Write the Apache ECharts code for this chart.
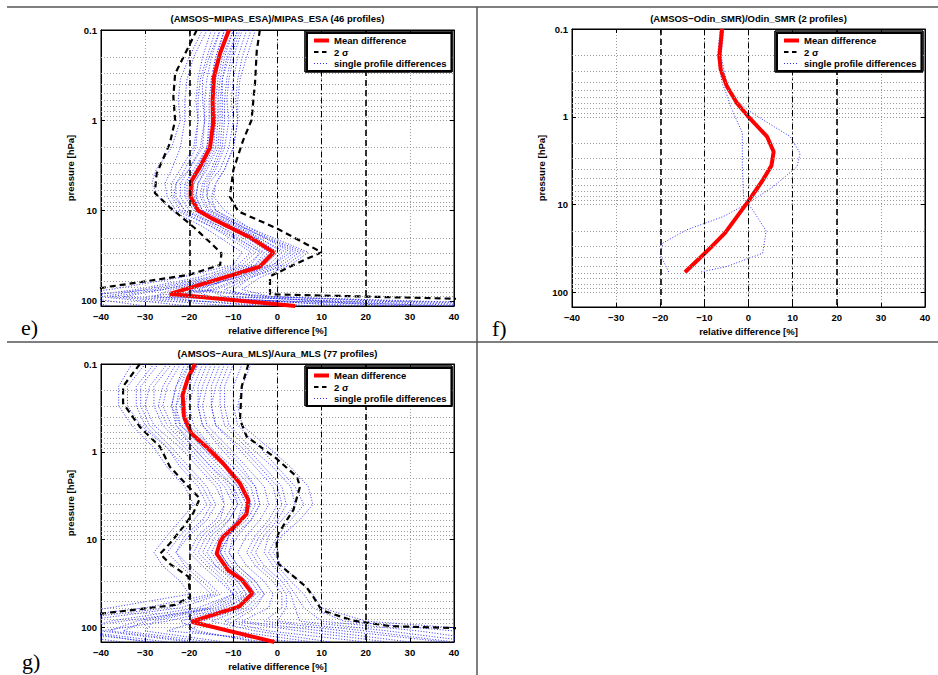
<!DOCTYPE html>
<html><head><meta charset="utf-8">
<script src="https://cdn.jsdelivr.net/npm/echarts@6/dist/echarts.min.js"></script>
<style>html,body{margin:0;padding:0;background:#fff}#c{width:938px;height:675px}</style>
</head><body><div id="c"></div>
<script>
// ---------- tick labels / reference values ----------
const xTicks = [-40, -30, -20, -10, 0, 10, 20, 30, 40];
const xTickLabels = ['\u221240', '\u221230', '\u221220', '\u221210', '0', '10', '20', '30', '40'];
const yTicks = [0.1, 1, 10, 100];
const yTickLabels = ['0.1', '1', '10', '100'];
const minorP = [0.2, 0.3, 0.4, 0.5, 0.6, 0.7, 0.8, 0.9, 2, 3, 4, 5, 6, 7, 8, 9, 20, 30, 40, 50, 60, 70, 80, 90];
const refX = [-20, -10, 0, 10, 20];
const legendNames = ['Mean difference', '2 \u03c3', 'single profile differences'];
const titles = ['(AMSOS\u2212MIPAS_ESA)/MIPAS_ESA (46 profiles)', '(AMSOS\u2212Odin_SMR)/Odin_SMR (2 profiles)', '(AMSOS\u2212Aura_MLS)/Aura_MLS (77 profiles)'];
const panelLabels = ['e)', 'f)', 'g)'];

// ---------- panel e: MIPAS_ESA ----------
const meanE_p = [0.1, 0.18, 0.33, 0.6, 1.1, 2, 3.3, 4.8, 7, 10, 12.2, 15.7, 20.3, 29, 41.8, 83.7, 114];
const meanE_v = [-11, -13, -14.4, -14.7, -14.6, -15.3, -17.6, -19.6, -19.7, -18, -14.9, -10.4, -5.9, -0.9, -4, -24.4, 4];
const sigLoE_p = [0.1, 0.155, 0.305, 0.55, 1, 1.8, 3.9, 6.4, 9, 15.7, 24.2, 29.8, 40, 51.6, 72, 85];
const sigLoE_v = [-18.3, -20.2, -23.2, -23.6, -23.2, -24.4, -27.4, -27.8, -24.6, -18.7, -14.6, -12.7, -13, -20.2, -40, -50];
const sigHiE_p = [0.1, 0.17, 0.39, 1, 1.67, 3.55, 7, 10.2, 15.7, 29, 35, 53.4, 84.5, 100];
const sigHiE_v = [-4, -4.7, -5.1, -5.9, -7.8, -10, -10.8, -8.9, -0.2, 10, 6.2, -1.7, -1.7, 60];
const profE_p = [0.1, 0.2, 0.35, 0.6, 1, 2, 3.5, 5, 7, 10, 15, 20, 29, 40, 55, 75, 90, 114];
const profilesE = [
  [-8, -10, -11, -11.5, -11, -12, -14, -16, -16, -14, -8, -3, 3, -1, -8, -15, -30, 40],
  [-14, -16, -17.5, -18, -18, -18.5, -21, -23, -23, -21, -13, -9, -4, -6, -14, -26, -38, -10],
  [-6, -8, -9, -9.5, -9, -10, -12, -14, -14.5, -12, -7, -2, 6, 2, -6, -12, -5, 25],
  [-12, -14, -15, -15.5, -15.5, -16, -19, -21, -21, -19, -12, -7, -2, -5, -13, -22, -20, 8],
  [-10, -12, -13, -13.5, -13.5, -14, -16.5, -18, -18.5, -17, -10, -5, 0, -3, -10, -18, -1, 60],
  [-16, -19, -20.5, -21, -21, -22, -24, -25.5, -25, -23, -15, -11, -6, -9, -18, -32, -45, -30],
  [-9, -11, -12.5, -12.5, -12.5, -13, -15, -17, -17.5, -16, -9, -4, 1, -2, -9, -20, -15, 15],
  [-13, -15, -16, -16.5, -16.5, -17, -20, -22, -22, -20, -13, -8, -3, -5, -12, -24, -28, -5],
  [-11, -13, -14, -14.5, -14, -15, -17, -19, -19, -17.5, -11, -6, -1, -4, -11, -22, -2, 50],
  [-7, -9, -10, -10.5, -10, -11, -13, -15.5, -16, -15, -8.5, -3, 4, 0, -7, -14, -25, 30],
  [-15, -17, -18, -18.5, -18, -19, -22, -24, -24, -22, -15, -10, -5, -8, -16, -30, -40, -20],
  [-10, -12.5, -13.5, -14, -14, -14.5, -17, -19, -19.5, -18, -10.5, -5, 0, -3, -11, -16, -12, 45],
  [-12, -14, -15, -15, -15, -16, -18.5, -20.5, -20.5, -18.5, -11.5, -6.5, -1.5, -4.5, -12, -26, -35, 0],
  [-5, -7, -8.5, -9, -9, -10, -12, -14, -15, -14, -7, -1, 7, 3, -4, -8, -1.5, 70],
  [-17, -20, -22, -22.5, -22, -24, -27.5, -28.5, -27, -24, -17, -13, -8, -10, -22, -38, -55, -45],
  [-9, -11.5, -12.5, -13, -13, -13.5, -16, -18, -18.5, -17, -9.5, -4.5, 2, -1, -9, -19, -22, 20],
  [-13, -15.5, -17, -17, -16.5, -17.5, -20, -23, -23.5, -21, -14, -9.5, -3.5, -7, -15, -28, -48, -38],
  [-8.5, -10.5, -11.5, -12, -12, -12.5, -14.5, -16.5, -17, -15.5, -8, -2.5, 5, 1, -6, -10, -9, 35]
];

// ---------- panel f: Odin_SMR ----------
const meanF_p = [0.1, 0.205, 0.29, 0.45, 0.7, 1.0, 1.68, 2.5, 3.6, 5.5, 9.4, 21, 31.4, 59];
const meanF_v = [-6, -6.6, -6.3, -4.9, -2.6, 0, 4.2, 5.7, 5.2, 3.0, -0.2, -5.3, -8.7, -14.4];
const profAF_p = [0.1, 0.2, 0.41, 0.64, 0.85, 1.29, 1.67, 2.6, 3.7, 6.2, 9.6, 13.7, 19.4, 27.4, 37.5, 47, 60];
const profAF_v = [-5.6, -6.2, -5.0, -2.8, 0, 5.7, 9.4, 11.7, 11, 5.7, 0, -5.7, -14, -19.4, -20, -19, -18];
const profBF_p = [0.1, 0.2, 0.41, 0.64, 0.76, 1.52, 3.7, 8.5, 11.4, 20, 35.9, 50.7, 59];
const profBF_v = [-6.4, -7, -6.0, -4.5, -4.1, -1.4, -1.4, -1.1, 0.9, 4, 3.2, -4.9, -11];

// ---------- panel g: Aura_MLS ----------
const meanG_p = [0.1, 0.14, 0.225, 0.4, 0.62, 0.88, 1.36, 2.3, 3.55, 5.1, 6.8, 9.3, 10.6, 14.5, 22.3, 28.7, 41.1, 58.2, 86.3, 147];
const meanG_v = [-18.7, -20.2, -21.5, -21.2, -19.5, -16.1, -12.3, -8.5, -6.6, -7, -9.3, -12.3, -13, -13.8, -11.2, -8.1, -5.7, -8.7, -19.5, -0.7];
const sigLoG_p = [0.1, 0.18, 0.28, 0.52, 0.88, 1.48, 2.5, 3.4, 5.0, 6.8, 11.1, 14.5, 18.9, 26.5, 44.8, 55.6, 70, 85];
const sigLoG_v = [-31.2, -35, -35, -31.2, -26.6, -24.4, -20.2, -17.6, -19.1, -21, -24.4, -26.6, -24.4, -20.2, -19.8, -23.2, -40, -60];
const sigHiG_p = [0.1, 0.18, 0.43, 0.67, 1.2, 1.93, 2.5, 4.6, 8.5, 11, 18.9, 35, 44.8, 64, 84, 97, 102, 120];
const sigHiG_v = [-6.6, -8.1, -8.5, -7, -0.2, 4.4, 5.1, 3.6, 0.2, -0.2, 0.2, 6.6, 8.1, 10, 17.2, 25.5, 40, 70];
const profG_p = [0.1, 0.18, 0.3, 0.5, 0.9, 1.5, 2.5, 4, 6, 9, 14, 20, 30, 42, 60, 85, 110, 147];
const profilesG = [
  [-30, -34, -34, -31, -25, -22, -18, -16, -19, -22, -25, -22, -18, -15, -30, -55, -60, -40],
  [-8, -10, -10, -9, -4, 0, 4, 6, 3, 0, -2, 0, 3, 6, 8, 15, 40, 55],
  [-24, -28, -28, -26, -21, -17, -13, -12, -14, -18, -20, -17, -13, -10, -18, -38, -45, -25],
  [-14, -16, -17, -16, -11, -7, -3, -2, -4, -7, -9, -7, -3, -1, -2, -8, 10, 30],
  [-21, -23, -24, -23, -18, -14, -10, -8, -9, -13, -15, -13, -9, -7, -11, -22, -18, -5],
  [-17, -19, -20, -19, -15, -10, -6, -5, -7, -11, -12, -10, -6, -4, -7, -15, -5, 12],
  [-27, -31, -31, -29, -24, -20, -16, -14, -16, -20, -23, -20, -16, -13, -22, -45, -55, -35],
  [-11, -13, -13, -12, -7, -3, 1, 2, 0, -3, -5, -3, 1, 3, 4, 5, 25, 45],
  [-22, -25, -26, -24, -19, -15, -11, -9, -11, -15, -17, -14, -10, -8, -14, -28, -30, -12],
  [-16, -18, -18, -17, -12, -8, -5, -4, -6, -9, -11, -9, -5, -3, -6, -12, -2, 20],
  [-19, -21, -22, -21, -17, -12, -9, -7, -8, -11, -13, -11, -7, -5, -9, -18, -25, 5],
  [-33, -36, -36, -33, -28, -25, -21, -19, -22, -25, -28, -26, -22, -20, -38, -60, -65, -50],
  [-13, -15, -15, -14, -9, -5, -1, 0, -2, -5, -7, -5, -1, 1, 1, -3, 15, 38],
  [-20, -22, -23, -22, -17, -13, -9, -7, -9, -12, -14, -12, -8, -6, -10, -20, -10, 8],
  [-25, -29, -30, -28, -22, -18, -14, -12, -13, -17, -19, -16, -12, -10, -16, -32, -38, -18],
  [-18, -20, -21, -20, -15, -11, -7, -6, -8, -12, -13, -11, -7, -5, -8, -17, -20, -3],
  [-6, -8, -9, -8, -2, 3, 7, 8, 5, 1, -1, 1, 5, 8, 10, 20, 50, 65],
  [-23, -26, -27, -25, -20, -16, -12, -10, -12, -16, -18, -15, -11, -9, -15, -30, -35, -15],
  [-15, -17, -18, -17, -13, -9, -5, -4, -6, -10, -11, -9, -5, -3, -5, -10, 5, 25],
  [-20, -23, -24, -22, -16, -12, -8, -6, -8, -11, -13, -11, -8, -6, -12, -25, -40, -20],
  [-12, -14, -15, -14, -8, -4, 0, 1, -1, -4, -6, -4, 0, 2, 2, 0, 20, 40],
  [-28, -32, -32, -30, -25, -21, -17, -15, -17, -21, -23, -21, -17, -14, -25, -50, -45, -30],
  [-18, -21, -23, -23, -19, -15, -10, -9, -11, -14, -16, -14, -9, -7, -13, -35, -50, -28],
  [-10, -12, -12, -11, -6, -1, 3, 4, 1, -2, -3, -1, 2, 4, 6, 10, 32, 50]
];

// ---------- build ----------
const FONT = '"Liberation Sans", Arial, Helvetica, sans-serif';
const FS = 9.5;
const pair = (p, v) => p.map((pp, i) => [v[i], pp]);

const panels = [
  { grid: { left: 101, top: 30, width: 353, height: 276 }, maxP: 114, cx: 277.5, titleTop: 13.5, legendBox: [307, 33, 143, 37], lab: [21, 327],
    profiles: profilesE.map(v => pair(profE_p, v)), sig: [pair(sigLoE_p, sigLoE_v), pair(sigHiE_p, sigHiE_v)], mean: pair(meanE_p, meanE_v) },
  { grid: { left: 572, top: 29, width: 353, height: 278 }, maxP: 147, cx: 748.5, titleTop: 13.5, legendBox: [777, 33, 144, 37], lab: [492, 328],
    profiles: [pair(profAF_p, profAF_v), pair(profBF_p, profBF_v)], sig: [], mean: pair(meanF_p, meanF_v) },
  { grid: { left: 101, top: 364, width: 353, height: 278 }, maxP: 147, cx: 277.5, titleTop: 348.5, legendBox: [307, 368, 143, 36], lab: [22, 661],
    profiles: profilesG.map(v => pair(profG_p, v)), sig: [pair(sigLoG_p, sigLoG_v), pair(sigHiG_p, sigHiG_v)], mean: pair(meanG_p, meanG_v) }
];

const txt = { fontFamily: FONT, fontSize: FS, fontWeight: 'bold', color: '#000' };
function yLabel(v) {
  for (let i = 0; i < yTicks.length; i++) if (Math.abs(v / yTicks[i] - 1) < 1e-6) return yTickLabels[i];
  return '';
}
function xLabel(v) {
  const i = xTicks.findIndex(t => Math.abs(t - v) < 1e-9);
  return i < 0 ? '' : xTickLabels[i];
}
const GRIDLINE = { color: '#9a9a9a', width: 1, type: [1, 2] };
const BLUE = 'rgba(25,25,255,0.9)';

const grid = [], xAxis = [], yAxis = [], series = [], legend = [], title = [];
panels.forEach((P, k) => {
  grid.push(Object.assign({ show: true, borderColor: '#000', borderWidth: 1, backgroundColor: 'transparent' }, P.grid));
  const tick = { show: true, inside: true, length: 4, lineStyle: { color: '#000' } };
  const line = { show: true, onZero: false, lineStyle: { color: '#000', width: 1 } };
  xAxis.push({
    type: 'value', gridIndex: k, min: -40, max: 40, interval: 10, position: 'bottom',
    name: 'relative difference [%]', nameLocation: 'middle', nameGap: 19, nameTextStyle: txt,
    axisLine: line, axisTick: tick,
    axisLabel: Object.assign({ margin: 5, formatter: xLabel }, txt),
    splitLine: { show: true, lineStyle: GRIDLINE }
  });
  xAxis.push({
    type: 'value', gridIndex: k, min: -40, max: 40, interval: 10, position: 'top',
    axisLine: line, axisTick: tick, axisLabel: { show: false }, splitLine: { show: false }
  });
  yAxis.push({
    type: 'log', logBase: 10, gridIndex: k, min: 0.1, max: P.maxP, inverse: true, splitNumber: 3, position: 'left',
    name: 'pressure [hPa]', nameLocation: 'middle', nameGap: 26, nameRotate: 90, nameTextStyle: txt,
    axisLine: line, axisTick: tick,
    axisLabel: Object.assign({ margin: 4, formatter: yLabel }, txt),
    splitLine: { show: true, lineStyle: GRIDLINE }
  });
  yAxis.push({
    type: 'log', logBase: 10, gridIndex: k, min: 0.1, max: P.maxP, inverse: true, splitNumber: 3, position: 'right',
    axisLine: line, axisTick: tick, axisLabel: { show: false }, splitLine: { show: false }
  });
  title.push({ text: titles[k], left: P.cx, top: P.titleTop, textAlign: 'center', padding: 0, textStyle: txt });

  const xi = 2 * k, yi = 2 * k;
  const mlData = minorP.filter(p => p < P.maxP).map(p => ({ yAxis: p, lineStyle: GRIDLINE }))
    .concat(refX.map(x => ({ xAxis: x, lineStyle: Math.abs(x) === 20
      ? { color: '#000', width: 1.6, type: [6, 4] }
      : { color: '#000', width: 1, type: [6, 3, 1.5, 3] } })));
  series.push({
    type: 'line', name: 'grid' + k, xAxisIndex: xi, yAxisIndex: yi, z: 1, silent: true,
    data: [[0, 1]], symbol: 'none', lineStyle: { width: 0, opacity: 0 },
    markLine: { silent: true, symbol: ['none', 'none'], label: { show: false }, animation: false, data: mlData }
  });
  P.profiles.forEach(d => series.push({
    type: 'line', name: legendNames[2], xAxisIndex: xi, yAxisIndex: yi, z: 2, silent: true,
    data: d, symbol: 'none', clip: true,
    lineStyle: { color: BLUE, width: 1, type: [1, 1.8] }
  }));
  if (P.sig.length) {
    P.sig.forEach(d => series.push({
      type: 'line', name: legendNames[1], xAxisIndex: xi, yAxisIndex: yi, z: 3, silent: true,
      data: d, symbol: 'none', clip: true,
      lineStyle: { color: '#000', width: 2.2, type: [6, 4] }
    }));
  } else {
    series.push({ type: 'line', name: legendNames[1], xAxisIndex: xi, yAxisIndex: yi, data: [], symbol: 'none',
      lineStyle: { color: '#000', width: 2.2, type: [6, 4] } });
  }
  series.push({
    type: 'line', name: legendNames[0], xAxisIndex: xi, yAxisIndex: yi, z: 4, silent: true,
    data: P.mean, symbol: 'none', clip: true,
    lineStyle: { color: '#ff0000', width: 4, type: 'solid' }
  });
  legend.push({
    orient: 'vertical', left: P.legendBox[0], top: P.legendBox[1], z: 10,
    backgroundColor: '#ffffff', borderColor: '#000000', borderWidth: 2,
    padding: [2, 5, 2, 5], itemGap: 0.5, itemWidth: 15, itemHeight: 11, selectedMode: false,
    textStyle: Object.assign({ lineHeight: 11 }, txt),
    itemStyle: { opacity: 0 },
    data: [
      { name: legendNames[0], lineStyle: { color: '#ff0000', width: 4, type: 'solid' } },
      { name: legendNames[1], lineStyle: { color: '#000', width: 2.2, type: [4.5, 3.5] } },
      { name: legendNames[2], lineStyle: { color: BLUE, width: 1, type: [1, 2] } }
    ]
  });
});

const sep = { stroke: '#555', lineWidth: 1.5 };
const graphic = [
  { type: 'line', shape: { x1: 7, y1: 7, x2: 938, y2: 7 }, style: sep, silent: true },
  { type: 'line', shape: { x1: 7, y1: 342, x2: 938, y2: 342 }, style: sep, silent: true },
  { type: 'line', shape: { x1: 477, y1: 7, x2: 477, y2: 675 }, style: sep, silent: true }
];
const frame = { stroke: '#000000', lineWidth: 1.6 };
panels.forEach(P => {
  const [bx, by, bw, bh] = P.legendBox;
  [[bx - 2, by - 2, bx + bw + 2, by - 2], [bx + bw + 2, by - 2, bx + bw + 2, by + bh + 2], [bx - 2, by + bh + 2, bx + bw + 2, by + bh + 2], [bx - 2, by - 2, bx - 2, by + bh + 2]].forEach(s =>
    graphic.push({ type: 'line', silent: true, shape: { x1: s[0], y1: s[1], x2: s[2], y2: s[3] }, style: frame }));
});
panels.forEach((P, k) => graphic.push({
  type: 'text', x: P.lab[0], y: P.lab[1], silent: true,
  style: { text: panelLabels[k], font: '22px "Liberation Serif", "Times New Roman", serif', fill: '#000', textAlign: 'left', textVerticalAlign: 'middle' }
}));

const chart = echarts.init(document.getElementById('c'), null, { renderer: 'svg', width: 938, height: 675 });
chart.setOption({ animation: false, backgroundColor: '#fff', title, grid, xAxis, yAxis, series, legend, graphic });
</script></body></html>
